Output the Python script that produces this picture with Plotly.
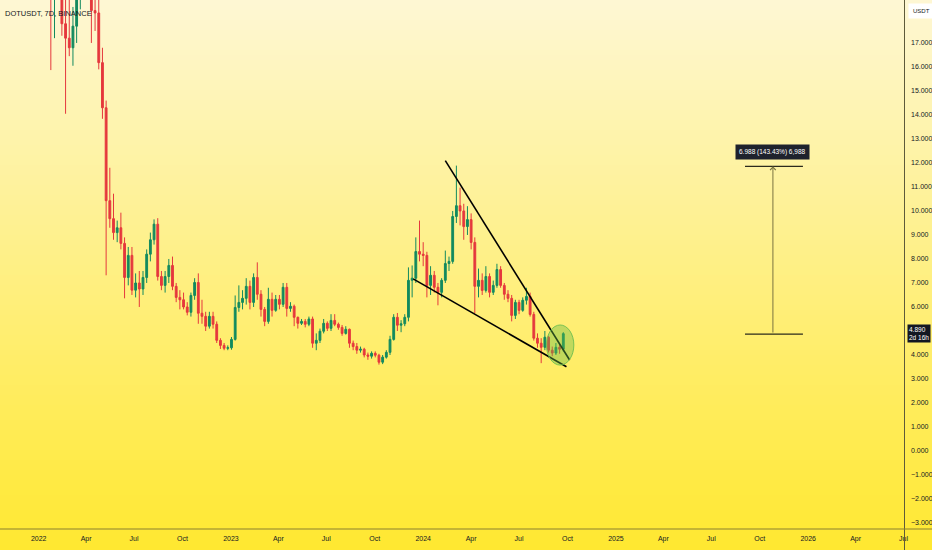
import pandas as pd
import plotly.graph_objects as go

# ---------------- data (weekly DOT/USDT) ----------------
start_week = "2021-10-25"
opens = [39.5, 43.0, 47.0, 44.0, 38.0, 39.0, 30.0, 26.0, 25.0, 29.0,
         27.0, 24.0, 25.5, 19.8, 19.2, 21.3, 20.3, 17.8, 17.2, 16.8,
         17.7, 19.8, 22.5, 21.6, 20.0, 18.35, 18.25, 16.18, 14.3, 10.43,
         9.68, 9.1, 9.3, 8.65, 7.23, 8.15, 6.7, 7.0, 6.75, 7.23,
         8.2, 8.8, 9.45, 7.27, 6.9, 7.27, 7.73, 6.86, 6.4, 6.3,
         6.0, 5.78, 6.48, 7.02, 5.74, 5.61, 5.2, 5.61, 5.28, 4.61,
         4.4, 4.28, 4.3, 4.65, 5.98, 6.19, 6.36, 6.86, 6.19, 7.23,
         6.53, 5.9, 5.4, 6.32, 5.86, 6.32, 6.11, 6.82, 5.94, 6.03,
         5.57, 5.32, 5.4, 5.28, 5.5, 4.49, 4.61, 4.99, 5.32, 5.11,
         5.44, 5.28, 5.15, 4.9, 5.07, 4.49, 4.35, 4.2, 4.24, 4.0,
         3.95, 4.07, 3.99, 3.7, 3.91, 4.11, 4.65, 5.57, 5.24, 5.3,
         5.57, 7.11, 7.2, 8.31, 8.2, 8.15, 6.9, 7.32, 6.82, 6.61,
         7.11, 7.81, 7.9, 9.77, 10.22, 10.0, 9.35, 9.64, 8.69, 6.86,
         7.11, 6.69, 7.27, 6.61, 6.9, 7.56, 6.9, 6.53, 6.36, 5.65,
         6.19, 5.86, 6.28, 6.44, 5.69, 4.7, 4.49, 4.32, 4.74, 4.2,
         4.08, 4.32, 4.24]
highs = [45.0, 50.0, 55.0, 45.0, 42.0, 40.0, 32.0, 27.5, 30.0, 31.0,
         29.5, 27.0, 26.0, 20.8, 22.5, 24.0, 21.3, 19.0, 18.8, 18.5,
         20.3, 23.0, 23.6, 22.2, 20.4, 19.3, 18.8, 16.8, 14.6, 11.8,
         10.72, 9.6, 9.93, 8.9, 8.5, 8.5, 7.4, 7.5, 7.5, 8.4,
         9.1, 9.65, 9.7, 7.5, 7.5, 8.0, 8.1, 7.0, 6.7, 6.6,
         6.2, 6.6, 7.2, 7.4, 6.3, 5.8, 5.8, 5.8, 5.4, 4.7,
         4.5, 4.4, 4.75, 6.48, 6.9, 6.7, 7.2, 7.1, 7.4, 7.86,
         6.7, 6.0, 6.8, 6.6, 6.5, 6.5, 7.0, 7.0, 6.2, 6.1,
         5.6, 5.5, 5.5, 5.6, 5.6, 4.9, 5.1, 5.5, 5.4, 5.7,
         5.7, 5.35, 5.25, 5.2, 5.1, 4.6, 4.5, 4.35, 4.3, 4.1,
         4.15, 4.15, 4.05, 4.0, 4.2, 4.8, 5.7, 5.75, 5.45, 5.7,
         7.65, 7.73, 8.9, 9.6, 8.7, 8.3, 7.7, 7.5, 7.0, 7.2,
         8.35, 8.1, 10.0, 11.89, 10.97, 10.3, 10.2, 9.9, 8.9, 7.6,
         7.4, 7.7, 7.4, 7.1, 7.8, 7.7, 7.0, 6.7, 6.5, 6.3,
         6.3, 6.4, 6.8, 6.6, 5.8, 4.9, 4.7, 5.0, 4.8, 4.35,
         4.5, 4.45, 4.95]
lows = [38.0, 42.0, 43.0, 36.0, 35.0, 23.0, 24.0, 22.0, 24.0, 26.0,
        21.5, 23.0, 19.0, 15.87, 17.2, 19.5, 17.3, 14.05, 16.45, 16.05,
        17.0, 18.4, 20.8, 19.3, 17.0, 17.5, 15.9, 13.84, 7.32, 9.3,
        8.8, 8.7, 8.4, 6.36, 6.9, 6.5, 6.4, 6.0, 6.5, 7.0,
        7.9, 8.6, 7.1, 6.7, 6.6, 7.0, 6.7, 6.2, 5.9, 5.9,
        5.65, 5.6, 6.3, 5.3, 5.3, 5.0, 5.1, 5.1, 4.5, 4.25,
        4.2, 4.2, 4.22, 4.6, 5.8, 5.9, 6.1, 5.9, 6.0, 6.3,
        5.6, 5.2, 5.3, 5.6, 5.8, 5.9, 6.0, 5.6, 5.8, 5.2,
        5.1, 5.25, 5.15, 5.2, 4.3, 4.2, 4.5, 4.9, 5.0, 5.0,
        5.2, 5.05, 4.8, 4.85, 4.3, 4.2, 4.05, 4.1, 3.9, 3.8,
        3.85, 3.9, 3.6, 3.62, 3.85, 4.0, 4.6, 5.0, 4.95, 5.2,
        5.4, 6.4, 7.0, 7.9, 7.7, 6.4, 6.5, 6.6, 6.07, 6.4,
        7.0, 7.5, 7.8, 9.5, 9.4, 8.8, 9.0, 8.4, 5.74, 6.4,
        6.5, 6.6, 6.4, 6.5, 6.8, 6.8, 6.3, 6.2, 5.4, 5.5,
        5.7, 5.8, 6.1, 5.6, 4.6, 4.3, 3.66, 4.2, 4.1, 3.95,
        4.0, 4.05, 4.15]
closes = [43.0, 47.0, 44.0, 38.0, 39.0, 30.0, 26.0, 25.0, 29.0, 27.0,
          24.0, 25.5, 19.8, 19.2, 21.3, 20.3, 17.8, 17.2, 16.8, 17.7,
          19.8, 22.5, 21.6, 20.0, 18.35, 18.25, 16.18, 14.3, 10.43, 9.68,
          9.1, 9.3, 8.65, 7.23, 8.15, 6.7, 7.0, 6.75, 7.23, 8.2,
          8.8, 9.45, 7.27, 6.9, 7.27, 7.73, 6.86, 6.4, 6.3, 6.0,
          5.78, 6.48, 7.02, 5.74, 5.61, 5.2, 5.61, 5.28, 4.61, 4.4,
          4.28, 4.3, 4.65, 5.98, 6.19, 6.36, 6.86, 6.19, 7.23, 6.53,
          5.9, 5.4, 6.32, 5.86, 6.32, 6.11, 6.82, 5.94, 6.03, 5.57,
          5.32, 5.4, 5.28, 5.5, 4.49, 4.61, 4.99, 5.32, 5.11, 5.44,
          5.28, 5.15, 4.9, 5.07, 4.49, 4.35, 4.2, 4.24, 4.0, 3.95,
          4.07, 3.99, 3.7, 3.91, 4.11, 4.65, 5.57, 5.24, 5.3, 5.57,
          7.11, 7.2, 8.31, 8.2, 8.15, 6.9, 7.32, 6.82, 6.61, 7.11,
          7.81, 7.9, 9.77, 10.22, 10.0, 9.35, 9.64, 8.69, 6.86, 7.11,
          6.69, 7.27, 6.61, 6.9, 7.56, 6.9, 6.53, 6.36, 5.65, 6.19,
          5.86, 6.28, 6.44, 5.69, 4.7, 4.49, 4.32, 4.74, 4.2, 4.08,
          4.32, 4.24, 4.89]

# drawings
upper_line_dates = ["2024-02-12", "2024-10-05"]
upper_line_prices = [12.10, 3.79]
lower_line_dates = ["2023-12-13", "2024-09-29"]
lower_line_prices = [7.17, 3.51]
circle_dates = ["2024-08-22", "2024-10-13"]
circle_prices = [3.58, 5.25]
measure_dates = ["2025-09-03", "2025-10-26", "2025-12-22"]
measure_prices = [4.872, 11.86]
measure_text = "6.988 (143.43%) 6,988"
last_price_text = "4.890<br>2d 16h"
title_text = "DOTUSDT, 7D, BINANCE"

y_ticks = [-3, -2, -1, 0, 1, 2, 3, 4, 6, 7, 8, 9, 10, 11, 12, 13, 14, 15, 16, 17]
x_tick_dates = ["2022-01-01", "2022-04-01", "2022-07-01", "2022-10-01",
                "2023-01-01", "2023-04-01", "2023-07-01", "2023-10-01",
                "2024-01-01", "2024-04-01", "2024-07-01", "2024-10-01",
                "2025-01-01", "2025-04-01", "2025-07-01", "2025-10-01",
                "2026-01-01", "2026-04-01", "2026-07-01"]
x_tick_labels = ["2022", "Apr", "Jul", "Oct", "2023", "Apr", "Jul", "Oct",
                 "2024", "Apr", "Jul", "Oct", "2025", "Apr", "Jul", "Oct",
                 "2026", "Apr", "Jul"]

dates = pd.date_range(start_week, periods=len(closes), freq="7D")

W, H = 932, 550
ML, MR, MT, MB = 0, 26, 0, 21
PW, PH = W - ML - MR, H - MT - MB
FONT = "Liberation Sans Narrow, Liberation Sans, sans-serif"
UP, DOWN = "#138a5f", "#e5383d"

fig = go.Figure()
fig.add_trace(go.Candlestick(
    x=dates, open=opens, high=highs, low=lows, close=closes,
    increasing=dict(line=dict(color=UP, width=1), fillcolor=UP),
    decreasing=dict(line=dict(color=DOWN, width=1), fillcolor=DOWN),
    whiskerwidth=0, showlegend=False, hoverinfo="skip",
))

shapes = []
# background gradient (vertical)
top_c = (254, 247, 212)
bot_c = (255, 232, 48)
n = 110
for k in range(n):
    t = (k + 0.5) / n
    c = tuple(int(round(top_c[j] + (bot_c[j] - top_c[j]) * t)) for j in range(3))
    y1 = 1 - (k * (H / n)) / PH
    y0 = 1 - ((k + 1) * (H / n) + 0.6) / PH
    shapes.append(dict(type="rect", xref="paper", yref="paper", x0=-0.01, x1=1.05,
                       y0=y0, y1=y1, fillcolor="rgb(%d,%d,%d)" % c,
                       line=dict(width=0), layer="below"))

# axis separators
shapes.append(dict(type="line", xref="paper", yref="paper", x0=1.0 - 1.5 / PW, x1=1.0 - 1.5 / PW,
                   y0=-MB / PH, y1=1, line=dict(color="#5e5a3a", width=1)))
shapes.append(dict(type="line", xref="paper", yref="paper", x0=0, x1=W / PW,
                   y0=0, y1=0, line=dict(color="#8a8030", width=1.2)))

# wedge lines
shapes.append(dict(type="line", xref="x", yref="y",
                   x0=upper_line_dates[0], y0=upper_line_prices[0],
                   x1=upper_line_dates[1], y1=upper_line_prices[1],
                   line=dict(color="#000000", width=1.6)))
shapes.append(dict(type="line", xref="x", yref="y",
                   x0=lower_line_dates[0], y0=lower_line_prices[0],
                   x1=lower_line_dates[1], y1=lower_line_prices[1],
                   line=dict(color="#000000", width=1.6)))
# green circle
shapes.append(dict(type="circle", xref="x", yref="y",
                   x0=circle_dates[0], x1=circle_dates[1],
                   y0=circle_prices[0], y1=circle_prices[1],
                   fillcolor="rgba(100,185,70,0.40)",
                   line=dict(color="rgba(110,190,80,0.9)", width=1)))
# measure tool horizontal lines
for p in measure_prices:
    shapes.append(dict(type="line", xref="x", yref="y",
                       x0=measure_dates[0], x1=measure_dates[2], y0=p, y1=p,
                       line=dict(color="#2b2a1c", width=1.2)))

annotations = []
annotations.append(dict(x=measure_dates[1], y=measure_prices[1], xref="x", yref="y",
                        ax=measure_dates[1], ay=measure_prices[0], axref="x", ayref="y",
                        text="", showarrow=True, arrowhead=4, arrowsize=1.1,
                        arrowwidth=1, arrowcolor="#7a7440", standoff=0))
annotations.append(dict(x=measure_dates[1], y=measure_prices[1], xref="x", yref="y",
                        text=measure_text, showarrow=False, yshift=14,
                        font=dict(family=FONT, size=6.5, color="#ffffff"),
                        bgcolor="#1e222d", borderpad=3))
annotations.append(dict(x=1.0, y=4.89, xref="paper", yref="y", xanchor="left",
                        text=last_price_text, showarrow=False, xshift=1,
                        font=dict(family=FONT, size=6.5, color="#ffffff"),
                        bgcolor="#131722", borderpad=1, align="left"))
annotations.append(dict(x=1.0, y=1.0, xref="paper", yref="paper", xanchor="left", yanchor="top",
                        text="USDT", showarrow=False, xshift=2, yshift=-3,
                        font=dict(family=FONT, size=6, color="#131722"),
                        bgcolor="#ffffff", borderpad=4))
annotations.append(dict(x=0, y=1.0, xref="paper", yref="paper", xanchor="left", yanchor="top",
                        text=title_text, showarrow=False, xshift=3, yshift=-7,
                        font=dict(family=FONT, size=7.5, color="#131722")))

fig.update_layout(
    width=W, height=H,
    margin=dict(l=ML, r=MR, t=MT, b=MB, pad=0),
    paper_bgcolor="#ffe933",
    plot_bgcolor="rgba(0,0,0,0)",
    shapes=shapes, annotations=annotations,
    showlegend=False,
    xaxis=dict(type="date", range=["2021-10-19 12:00", "2026-07-05 16:00"],
               rangeslider=dict(visible=False), showgrid=False, zeroline=False,
               tickvals=x_tick_dates, ticktext=x_tick_labels, ticks="",
               ticklabelstandoff=4,
               tickfont=dict(family=FONT, size=7, color="#131722"),
               showline=False, fixedrange=True),
    yaxis=dict(side="right", range=[-3.25, 18.79], showgrid=False, zeroline=False,
               tickvals=y_ticks,
               ticktext=["%.3f" % v if v >= 0 else "\u2212%.3f" % (-v) for v in y_ticks],
               ticks="", ticklabelstandoff=4,
               tickfont=dict(family=FONT, size=7, color="#131722"),
               showline=False, fixedrange=True),
)

fig.write_html("out.html", config={"displayModeBar": False},
               post_script="document.body.style.margin='0';document.body.style.overflow='hidden';")
